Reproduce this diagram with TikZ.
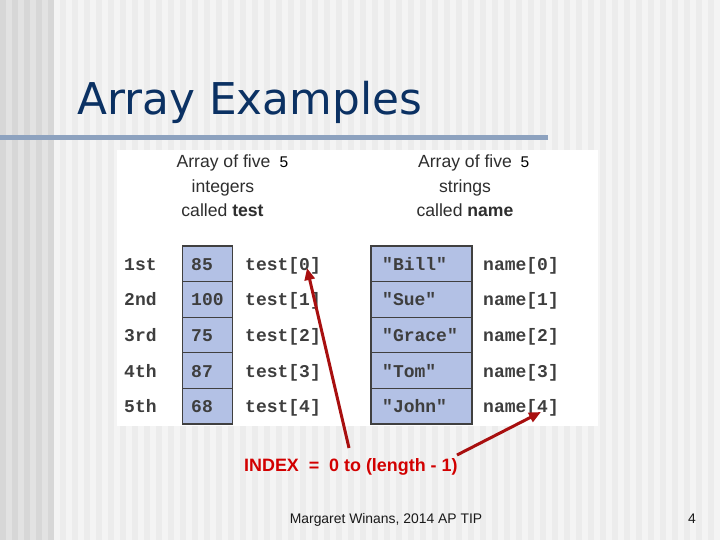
\documentclass[tikz,border=0pt]{standalone}
\usepackage{fontspec}
\setmainfont{Liberation Sans}
\newfontfamily\titlefont{DejaVu Sans}
\newfontfamily\monofont{Liberation Mono}
\usetikzlibrary{arrows.meta}
\definecolor{titleblue}{HTML}{0B3163}
\definecolor{rulecol}{HTML}{8DA2BF}
\definecolor{cellfill}{HTML}{B3C1E5}
\definecolor{cellline}{HTML}{404040}
\definecolor{panelgray}{HTML}{2E2E2E}
\definecolor{monogray}{HTML}{3E3E3E}
\definecolor{arrowred}{HTML}{A80F0F}
\definecolor{indexred}{HTML}{D20000}
\definecolor{bgdark}{HTML}{E2E2E2}
\definecolor{bgdarkstripe}{HTML}{D7D7D7}
\definecolor{bglight}{HTML}{F4F4F4}
\definecolor{bglightstripe}{HTML}{ECECEC}
\tikzset{
  cellbox/.style={draw=cellline, line width=1.1pt, fill=cellfill, inner sep=0pt, minimum height=35.6pt},
  monotext/.style={font=\monofont\bfseries\fontsize{18}{18}\selectfont, text=monogray, inner sep=0pt, anchor=base west},
  headtext/.style={font=\fontsize{17.6}{17.6}\selectfont, text=panelgray, inner sep=0pt, anchor=base},
  fivetext/.style={font=\fontsize{15.5}{15.5}\selectfont, text=black, inner sep=0pt, anchor=base west},
  redarrow/.style={draw=arrowred, line width=3pt, -{Triangle[length=12pt,width=10pt]}},
}
\begin{document}
\begin{tikzpicture}[x=1pt,y=-1pt]
\useasboundingbox (0,0) rectangle (720,540);
% background
\fill[bglight] (0,0) rectangle (720,540);
\foreach \i in {0,...,59} {\fill[bglightstripe] (12*\i,0) rectangle ++(6,540);}
\fill[bgdark] (0,0) rectangle (53,540);
\foreach \i in {0,...,4} {\fill[bgdarkstripe] (12*\i,0) rectangle ++(6,540);}
% title
\node[font=\titlefont\fontsize{43.8}{43.8}\selectfont, text=titleblue, inner sep=0pt, anchor=base west] (title) at (77,115) {Array Examples};
\fill[rulecol] (0,135) rectangle (548,140);
% panel
\fill[white] (117,150) rectangle (598,426);
% headers
\node[headtext] (hl1) at (223.5,168) {Array of five};
\node[fivetext] (fl) at (279.5,168) {5};
\node[headtext] (hl2) at (223,193) {integers};
\node[headtext] (hl3) at (222.5,217) {called \textbf{test}};
\node[headtext] (hr1) at (465,168) {Array of five};
\node[fivetext] (fr) at (520.5,168) {5};
\node[headtext] (hr2) at (465,193) {strings};
\node[headtext] (hr3) at (465,217) {called \textbf{name}};
% rows
\foreach \i/\ord/\val/\str in {0/1st/85/"Bill",1/2nd/100/"Sue",2/3rd/75/"Grace",3/4th/87/"Tom",4/5th/68/"John"} {
  \pgfmathsetmacro{\cy}{263.8+35.6*\i}
  \pgfmathsetmacro{\by}{\cy+6.5}
  \node[cellbox, minimum width=50.5pt] (tc\i) at (207.3,\cy) {};
  \node[cellbox, minimum width=101pt] (nc\i) at (421.5,\cy) {};
  \node[monotext] (ord\i) at (124,\by) {\ord};
  \node[monotext] (tv\i) at (191,\by) {\val};
  \node[monotext] (ti\i) at (245,\by) {test[\i]};
  \node[monotext] (nv\i) at (382,\by) {\str};
  \node[monotext] (ni\i) at (483,\by) {name[\i]};
}
% index label and arrows
\node[font=\bfseries\fontsize{17.9}{17.9}\selectfont, text=indexred, inner sep=0pt, anchor=base west] (index) at (244,471) {INDEX\ \ =\ \ 0 to (length - 1)};
\coordinate (a1s) at (349,448);
\coordinate (a1e) at (307,268);
\coordinate (a2s) at (457,455);
\coordinate (a2e) at (541,412);
\draw[redarrow] (a1s) -- (a1e);
\draw[redarrow] (a2s) -- (a2e);
% footer
\node[font=\fontsize{13.9}{13.9}\selectfont, text=black!90, inner sep=0pt, anchor=base] (foot) at (386,523) {Margaret Winans, 2014 AP TIP};
\node[font=\fontsize{13.9}{13.9}\selectfont, text=black!90, inner sep=0pt, anchor=base] (pnum) at (692,523) {4};
\end{tikzpicture}
\end{document}
